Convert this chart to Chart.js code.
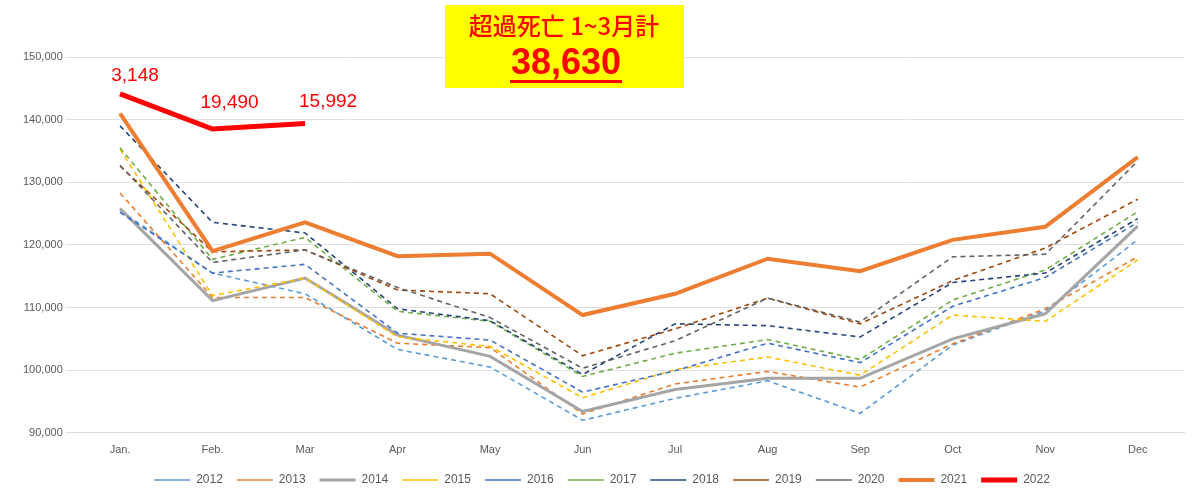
<!DOCTYPE html>
<html>
<head>
<meta charset="utf-8">
<script src="https://cdn.jsdelivr.net/npm/chart.js@4"></script>
<style>
  body { margin: 0; background: #fff; }
  #wrap { width: 1200px; height: 500px; }
</style>
</head>
<body>
<div id="wrap"><canvas id="c"></canvas></div>
<script>
const months = ["Jan.", "Feb.", "Mar", "Apr", "May", "Jun", "Jul", "Aug", "Sep", "Oct", "Nov", "Dec"];
const years = ["2012", "2013", "2014", "2015", "2016", "2017", "2018", "2019", "2020", "2021", "2022"];
const colors = ["#5B9BD5", "#ED7D31", "#A5A5A5", "#FFC000", "#4472C4", "#70AD47", "#264478", "#9E480E", "#636363", "#ED7D31", "#FF0000"];
const v2012 = [125500, 115500, 112200, 103300, 100500, 92000, 95500, 98300, 93100, 104000, 109500, 120800];
const v2013 = [128300, 111600, 111600, 104300, 103600, 93000, 97800, 99800, 97300, 104200, 109800, 118100];
const v2014 = [125800, 111100, 114700, 105600, 102200, 93400, 96900, 98700, 98700, 105000, 109000, 123000];
const v2015 = [135300, 111900, 114700, 105300, 103800, 95600, 100100, 102100, 99200, 108800, 107800, 117600];
const v2016 = [125200, 115500, 116900, 105900, 104800, 96500, 99900, 104300, 101200, 110200, 114800, 123600];
const v2017 = [135500, 117700, 121200, 109400, 107800, 99000, 102700, 104900, 101700, 111200, 116000, 125300];
const v2018 = [139000, 123600, 121900, 109800, 107900, 99300, 107400, 107100, 105300, 114000, 115500, 124200];
const v2019 = [132600, 118900, 119200, 112800, 112200, 102300, 106600, 111500, 107400, 114300, 119500, 127300];
const v2020 = [132700, 117200, 119200, 113200, 108400, 100300, 104700, 111500, 107700, 118100, 118500, 133400];
const v2021 = [141000, 119000, 123600, 118200, 118600, 108800, 112200, 117800, 115800, 120800, 122900, 134000];
const v2022 = [144100, 138500, 139400];
const excessLabels = ["3,148", "19,490", "15,992"];
const series = [v2012, v2013, v2014, v2015, v2016, v2017, v2018, v2019, v2020, v2021, v2022];
const solid = { "2014": 3, "2021": 4, "2022": 5 };

const datasets = series.map((d, i) => ({
  label: years[i],
  data: d,
  borderColor: colors[i],
  backgroundColor: colors[i],
  borderWidth: solid[years[i]] || 1.6,
  borderDash: solid[years[i]] ? [] : [5, 4],
  pointRadius: 0,
  tension: 0,
  order: 11 - i,
}));

// red value labels on 2022 + yellow title box
const annotate = {
  id: "annotate",
  afterDatasetsDraw(chart) {
    const ctx = chart.ctx;
    const meta = chart.getDatasetMeta(10);
    ctx.save();
    ctx.fillStyle = "#FF0000";
    ctx.font = "19px Arial, 'Liberation Sans'";
    ctx.textAlign = "center";
    ctx.textBaseline = "bottom";
    const offs = [[15, -9], [17, -17], [23, -12]];
    meta.data.forEach((p, i) => ctx.fillText(excessLabels[i], p.x + offs[i][0], p.y + offs[i][1]));
    ctx.fillStyle = "#FFFF00";
    ctx.fillRect(445, 5, 239, 83);
    ctx.fillStyle = "#FF0000";
    ctx.font = "500 24px 'Noto Sans CJK JP'";
    ctx.textBaseline = "middle";
    ctx.fillText("超過死亡 1~3月計", 564, 26);
    ctx.font = "bold 36px Arial, 'Liberation Sans'";
    ctx.fillText("38,630", 566, 64);
    ctx.fillRect(510, 80, 112, 3);
    ctx.restore();
  },
};

new Chart(document.getElementById("c"), {
  type: "line",
  data: { labels: months, datasets: datasets },
  plugins: [annotate],
  options: {
    responsive: true,
    maintainAspectRatio: false,
    animation: false,
    layout: { padding: { top: 57, right: 16, left: 20, bottom: 4 } },
    plugins: {
      legend: {
        position: "bottom",
        labels: {
          usePointStyle: true,
          pointStyle: "line",
          pointStyleWidth: 36,
          color: "#595959",
          font: { size: 12 },
          padding: 14,
          sort: (a, b) => a.datasetIndex - b.datasetIndex,
        },
      },
      tooltip: { enabled: false },
    },
    scales: {
      x: {
        offset: true,
        grid: { display: false },
        border: { color: "#d9d9d9" },
        ticks: { color: "#595959", font: { size: 11 } },
      },
      y: {
        min: 90000,
        max: 150000,
        ticks: { stepSize: 10000, color: "#595959", font: { size: 11 }, callback: (v) => v.toLocaleString("en-US") },
        grid: { color: "#e0e0e0" },
        border: { display: false },
      },
    },
  },
});
</script>
</body>
</html>
